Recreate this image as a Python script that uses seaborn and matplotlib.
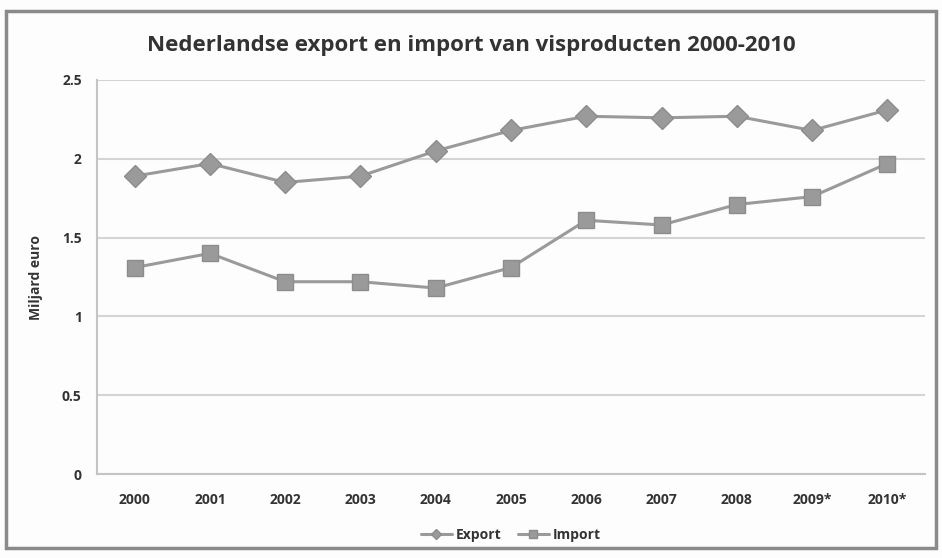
import matplotlib
matplotlib.use('Agg')
import matplotlib.pyplot as plt
import numpy as np
import pandas as pd
import seaborn as sns
from matplotlib.patches import Rectangle

years = ['2000', '2001', '2002', '2003', '2004', '2005', '2006', '2007', '2008', '2009*', '2010*']
export = [1.89, 1.97, 1.85, 1.89, 2.05, 2.18, 2.27, 2.26, 2.27, 2.18, 2.31]
imports = [1.31, 1.40, 1.22, 1.22, 1.18, 1.31, 1.61, 1.58, 1.71, 1.76, 1.97]
y_ticks = [0, 0.5, 1, 1.5, 2, 2.5]
y_labels = ['0', '0.5', '1', '1.5', '2', '2.5']

df = pd.DataFrame({
    'jaar': years * 2,
    'waarde': export + imports,
    'reeks': ['Export'] * len(years) + ['Import'] * len(years),
})

sns.set_theme(style='white')
plt.rcParams['font.family'] = ['Open Sans', 'DejaVu Sans']

fig = plt.figure(figsize=(9.42, 5.58), dpi=100)
fig.patch.set_facecolor('#fdfdfd')
# grijze rand om de grafiek
fig.add_artist(Rectangle((0.006, 0.018), 0.988, 0.962, transform=fig.transFigure,
                         fill=False, edgecolor='#8a8a8a', linewidth=2.5))

ax = fig.add_axes([97 / 942, 1 - 474 / 558, (925 - 97) / 942, (474 - 80) / 558])
ax.set_facecolor('#fdfdfd')

sns.lineplot(data=df, x='jaar', y='waarde', hue='reeks', style='reeks',
             markers={'Export': 'D', 'Import': 's'}, dashes=False,
             palette={'Export': '#9a9a9a', 'Import': '#9a9a9a'},
             markersize=11, linewidth=2.2, markeredgecolor='#8c8c8c',
             markeredgewidth=1, sort=False, ax=ax)

ax.set_xlim(-0.5, len(years) - 0.5)
ax.set_ylim(0, 2.5)
ax.set_yticks(y_ticks)
ax.set_yticklabels(y_labels)
ax.yaxis.grid(True, color='#d4d4d4', linewidth=1.5)
ax.set_axisbelow(True)

for s in ['top', 'right']:
    ax.spines[s].set_visible(False)
for s in ['left', 'bottom']:
    ax.spines[s].set_color('#c4c4c4')
    ax.spines[s].set_linewidth(1.5)

ax.set_xticks(np.arange(-0.5, len(years), 1), minor=True)
ax.tick_params(axis='x', which='minor', length=5, color='#c4c4c4', width=1.2)
ax.tick_params(axis='x', which='major', length=0, pad=14)
ax.tick_params(axis='y', length=5, color='#c4c4c4', width=1.2, pad=6)
for lbl in ax.get_xticklabels() + ax.get_yticklabels():
    lbl.set_fontsize(10)
    lbl.set_fontweight('bold')
    lbl.set_color('#333333')

ax.set_xlabel('')
ax.set_ylabel('Miljard euro', fontsize=10, fontweight='bold', color='#333333', labelpad=14)

fig.text(0.5, 1 - 45 / 558, 'Nederlandse export en import van visproducten 2000-2010',
         ha='center', va='center', fontsize=16, fontweight='bold', color='#333333')

leg = ax.legend(loc='center', bbox_to_anchor=(0.5, -0.155), ncol=2, frameon=False,
                fontsize=10, handlelength=2.2, columnspacing=1.2, handletextpad=0.3,
                markerscale=0.5)
for t in leg.get_texts():
    t.set_fontweight('bold')
    t.set_color('#333333')

fig.savefig('out.png', dpi=100, facecolor=fig.get_facecolor())
